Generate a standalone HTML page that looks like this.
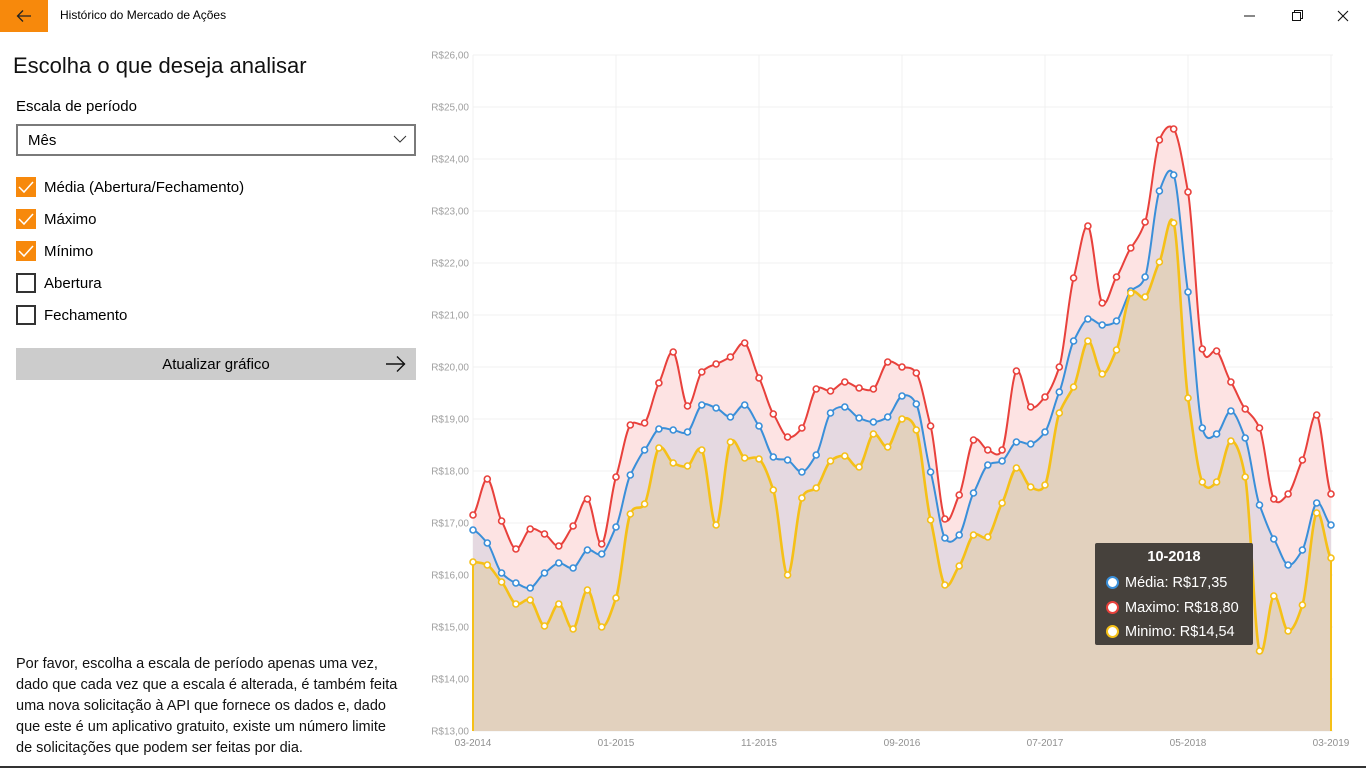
<!DOCTYPE html>
<html><head><meta charset="utf-8">
<style>
*{margin:0;padding:0;box-sizing:border-box}
body{width:1366px;height:768px;background:#fff;font-family:"Liberation Sans","DejaVu Sans",sans-serif;color:#000;position:relative;overflow:hidden}
.abs{position:absolute}
.cb{position:absolute;left:16px;width:20px;height:20px;border:2px solid #333;background:#fff}
.cb.on{background:#f7890c;border-color:#f7890c}
.cbl{position:absolute;left:44px;font-size:15px}
</style></head><body>
<div class="abs" style="left:0;top:0;width:48px;height:32px;background:#f7890c"></div>
<svg class="abs" style="left:16px;top:9px" width="16" height="14"><path d="M15 7H2M7 1.5L1.5 7L7 12.5" stroke="#222" stroke-width="1.3" fill="none"/></svg>
<div class="abs" style="left:60px;top:8px;font-size:12px">Histórico do Mercado de Ações</div>
<svg class="abs" style="left:1240px;top:8px" width="120" height="16"><path d="M4 8h11" stroke="#111" stroke-width="1"/><rect x="52.5" y="4.5" width="8" height="8" fill="none" stroke="#111"/><path d="M54.5 4.5V2.5h8v8h-2" fill="none" stroke="#111"/><path d="M98 3l10 10M108 3l-10 10" stroke="#111" stroke-width="1.1"/></svg>

<div class="abs" style="left:13px;top:53px;font-size:22px;color:#111">Escolha o que deseja analisar</div>
<div class="abs" style="left:16px;top:98px;font-size:15px">Escala de período</div>
<div class="abs" style="left:16px;top:124px;width:400px;height:32px;border:2px solid #7a7a7a"></div>
<div class="abs" style="left:28px;top:132px;font-size:15px">Mês</div>
<svg class="abs" style="left:393px;top:134px" width="14" height="10"><path d="M1 2l6 6 6-6" stroke="#333" fill="none"/></svg>

<div class="cb on" style="top:177px"></div><div class="cbl" style="top:179px">Média (Abertura/Fechamento)</div>
<div class="cb on" style="top:209px"></div><div class="cbl" style="top:211px">Máximo</div>
<div class="cb on" style="top:241px"></div><div class="cbl" style="top:243px">Mínimo</div>
<div class="cb" style="top:273px"></div><div class="cbl" style="top:275px">Abertura</div>
<div class="cb" style="top:305px"></div><div class="cbl" style="top:307px">Fechamento</div>
<svg class="abs" style="left:16px;top:177px" width="20" height="140"><g stroke="#fff" stroke-width="1.5" fill="none"><path d="M3 10l5 5 9-10"/><path d="M3 42l5 5 9-10"/><path d="M3 74l5 5 9-10"/></g></svg>

<div class="abs" style="left:16px;top:348px;width:400px;height:32px;background:#ccc;font-size:15px;text-align:center;line-height:34px">Atualizar gráfico</div>
<svg class="abs" style="left:385px;top:355px" width="22" height="18"><path d="M1 9h19M12 1.5L19.5 9 12 16.5" stroke="#111" stroke-width="1.4" fill="none"/></svg>

<div class="abs" style="left:16px;top:654px;width:386px;font-size:14.5px;line-height:21px;color:#111">Por favor, escolha a escala de período apenas uma vez, dado que cada vez que a escala é alterada, é também feita uma nova solicitação à API que fornece os dados e, dado que este é um aplicativo gratuito, existe um número limite de solicitações que podem ser feitas por dia.</div>

<svg id="ch" class="abs" style="left:0;top:0" width="1366" height="768"></svg>
<div class="abs" style="left:0;top:766px;width:1366px;height:2px;background:#333"></div>

<div class="abs" style="left:1095px;top:543px;width:158px;height:102px;background:#46413c;border-radius:2px;color:#fff">
<div style="position:absolute;top:6px;width:100%;text-align:center;font-weight:bold;font-size:14.5px">10-2018</div>
<div style="position:absolute;left:11px;top:28px;font-size:14.5px;line-height:24.5px;white-space:nowrap">
<div><span style="display:inline-block;width:13px;height:13px;border-radius:50%;background:#fff;border:2.5px solid #3a8fd9;vertical-align:-2px;margin-right:6px"></span>Média: R$17,35</div>
<div><span style="display:inline-block;width:13px;height:13px;border-radius:50%;background:#fff;border:2.5px solid #e8413c;vertical-align:-2px;margin-right:6px"></span>Maximo: R$18,80</div>
<div><span style="display:inline-block;width:13px;height:13px;border-radius:50%;background:#fff;border:2.5px solid #f5c018;vertical-align:-2px;margin-right:6px"></span>Minimo: R$14,54</div>
</div></div>

<script>
var mx=[515,479,521,549,529,534,546,526,499,544,477,425,423,383,352,406,372,364,357,343,378,414,437,428,389,391,382,388,389,362,367,373,426,519,495,440,450,450,371,407,397,367,278,226,303,277,248,222,140,129,192,349,351,382,409,428,499,494,460,415,494];
var av=[530,543,573,583,588,573,563,568,550,554,527,475,450,429,430,432,405,408,417,405,426,457,460,472,455,413,407,418,422,417,396,404,472,538,535,493,465,461,442,444,432,392,341,319,325,321,291,277,191,175,292,428,434,411,438,505,539,565,550,503,525];
var mn=[562,565,582,604,600,626,604,629,590,627,598,514,504,448,463,466,450,525,442,458,459,490,575,498,488,461,456,467,434,447,419,430,520,585,566,535,537,503,468,487,485,413,387,341,374,350,293,297,262,223,398,482,482,441,477,651,596,631,605,513,558];
var X0=473,DX=14.3,BASE=731,s='';
function px(i){return X0+i*DX}
function path(a){var d='M'+px(0)+' '+a[0];for(var i=0;i<a.length-1;i++){var p0=a[Math.max(i-1,0)],p1=a[i],p2=a[i+1],p3=a[Math.min(i+2,a.length-1)];var t=0.12;var c1=p1+(p2-p0)*t,c2=p2-(p3-p1)*t;d+=' C'+(px(i)+DX/3).toFixed(1)+' '+c1.toFixed(1)+' '+(px(i+1)-DX/3).toFixed(1)+' '+c2.toFixed(1)+' '+px(i+1).toFixed(1)+' '+p2;}return d}
for(var v=13;v<=26;v++){var y=731-(v-13)*52;s+='<line x1="473" x2="1333" y1="'+y+'" y2="'+y+'" stroke="#f0f0f0"/>';s+='<text x="469" y="'+(y+3.5)+'" text-anchor="end" font-size="10" fill="#a0a0a0" font-family="Liberation Sans">R$'+v+',00</text>';}
var lab=['03-2014','01-2015','11-2015','09-2016','07-2017','05-2018','03-2019'];
for(var k=0;k<7;k++){var x=473+k*143;s+='<line x1="'+x+'" x2="'+x+'" y1="55" y2="731" stroke="#f0f0f0"/>';s+='<text x="'+x+'" y="746" text-anchor="middle" font-size="10" fill="#909090" font-family="Liberation Sans">'+lab[k]+'</text>';}
var end=' L'+px(60)+' '+BASE+' L'+px(0)+' '+BASE+' Z';
s+='<path d="'+path(mx)+end+'" fill="#fde3e3"/>';
s+='<path d="'+path(av)+end+'" fill="#e5d9e1"/>';
s+='<path d="'+path(mn)+end+'" fill="#e2d1be"/>';
s+='<line x1="473" x2="473" y1="562" y2="731" stroke="#f5c018" stroke-width="2"/><line x1="1331" x2="1331" y1="558" y2="731" stroke="#f5c018" stroke-width="2"/>';
[[mx,'#e8413c',2],[av,'#3a8fd9',2],[mn,'#f5c018',2.6]].forEach(function(o){s+='<path d="'+path(o[0])+'" fill="none" stroke="'+o[1]+'" stroke-width="'+o[2]+'"/>';o[0].forEach(function(y,i){s+='<circle cx="'+px(i)+'" cy="'+y+'" r="3" fill="#fff" stroke="'+o[1]+'" stroke-width="1.6"/>';});});
document.getElementById('ch').innerHTML=s;
</script>
</body></html>
